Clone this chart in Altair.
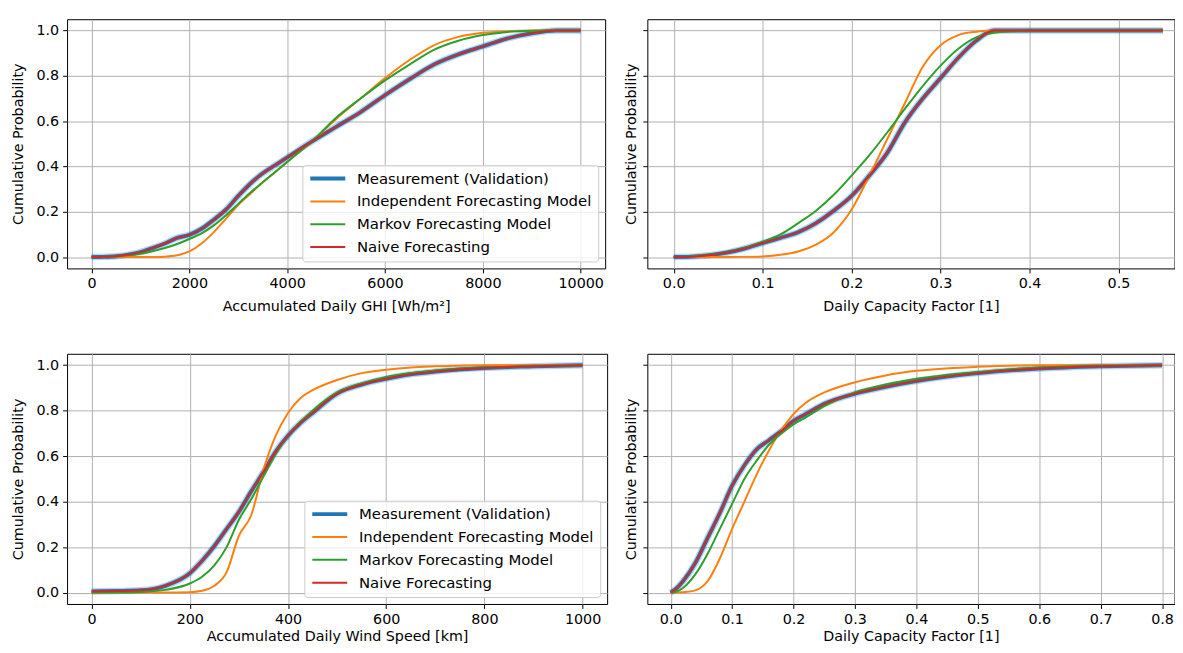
import altair as alt
import pandas as pd

SERIES = ["Measurement (Validation)", "Independent Forecasting Model",
          "Markov Forecasting Model", "Naive Forecasting"]
COLORS = ["#1f77b4", "#ff7f0e", "#2ca02c", "#d62728"]
WIDTHS = [4, 2, 2, 2]
YTICKS = [0.0, 0.2, 0.4, 0.6, 0.8, 1.0]

# --- Accumulated Daily GHI [Wh/m²] ---
ghi_x = [0, 250, 500, 750, 1000, 1250, 1500, 1750, 2000, 2250, 2500, 2750, 3000, 3250,
         3500, 3750, 4000, 4500, 5000, 5500, 6000, 6500, 7000, 7500, 8000, 8500, 9000,
         9500, 10000]
ghi_meas = [0, 0.001, 0.004, 0.011, 0.022, 0.04, 0.06, 0.085, 0.098, 0.125, 0.165, 0.21,
            0.27, 0.325, 0.37, 0.405, 0.44, 0.51, 0.575, 0.64, 0.715, 0.785, 0.85, 0.895,
            0.93, 0.965, 0.988, 1.0, 1.0]
ghi_indep = [0, 0, 0, 0, 0, 0.0005, 0.002, 0.008, 0.025, 0.06, 0.11, 0.17, 0.23, 0.28,
             0.33, 0.375, 0.42, 0.51, 0.61, 0.70, 0.79, 0.87, 0.935, 0.972, 0.99, 0.997,
             1.0, 1.0, 1.0]
ghi_markov = [0, 0.001, 0.003, 0.008, 0.015, 0.026, 0.04, 0.058, 0.08, 0.105, 0.14, 0.185,
              0.235, 0.285, 0.33, 0.375, 0.42, 0.51, 0.615, 0.70, 0.78, 0.85, 0.915, 0.955,
              0.98, 0.994, 0.999, 1.0, 1.0]
ghi_naive = [0, 0.001, 0.004, 0.011, 0.022, 0.04, 0.06, 0.085, 0.098, 0.125, 0.165, 0.21,
             0.27, 0.325, 0.37, 0.405, 0.44, 0.51, 0.575, 0.64, 0.715, 0.785, 0.85, 0.895,
             0.93, 0.965, 0.988, 1.0, 1.0]

# --- Solar daily capacity factor ---
scf_x = [0, 0.02, 0.04, 0.06, 0.08, 0.10, 0.12, 0.14, 0.16, 0.18, 0.20, 0.22, 0.24, 0.26,
         0.28, 0.30, 0.32, 0.34, 0.36, 0.38, 0.40, 0.45, 0.50, 0.55]
scf_meas = [0, 0.002, 0.008, 0.02, 0.038, 0.062, 0.085, 0.11, 0.15, 0.205, 0.27, 0.36,
            0.46, 0.595, 0.70, 0.79, 0.88, 0.955, 1.0, 1.0, 1.0, 1.0, 1.0, 1.0]
scf_indep = [0, 0, 0, 0.0005, 0.001, 0.003, 0.01, 0.025, 0.055, 0.11, 0.21, 0.36, 0.52,
             0.68, 0.84, 0.935, 0.98, 0.995, 1.0, 1.0, 1.0, 1.0, 1.0, 1.0]
scf_markov = [0, 0.003, 0.01, 0.022, 0.04, 0.068, 0.1, 0.15, 0.205, 0.275, 0.36, 0.45,
              0.55, 0.655, 0.755, 0.845, 0.92, 0.97, 0.99, 0.997, 1.0, 1.0, 1.0, 1.0]
scf_naive = [0, 0.002, 0.008, 0.02, 0.038, 0.062, 0.085, 0.11, 0.15, 0.205, 0.27, 0.36,
             0.46, 0.595, 0.70, 0.79, 0.88, 0.955, 1.0, 1.0, 1.0, 1.0, 1.0, 1.0]

# --- Accumulated Daily Wind Speed [km] ---
wind_x = [0, 50, 100, 150, 200, 225, 250, 275, 300, 325, 350, 375, 400, 425, 450, 500,
          550, 600, 650, 700, 800, 900, 1000]
wind_meas = [0.005, 0.007, 0.01, 0.03, 0.085, 0.14, 0.205, 0.28, 0.355, 0.445, 0.53,
             0.62, 0.69, 0.745, 0.79, 0.875, 0.915, 0.94, 0.96, 0.972, 0.988, 0.995, 1.0]
wind_indep = [0, 0, 0, 0, 0.002, 0.008, 0.03, 0.09, 0.25, 0.34, 0.54, 0.69, 0.79, 0.855,
              0.89, 0.935, 0.965, 0.98, 0.99, 0.995, 1.0, 1.0, 1.0]
wind_markov = [0, 0, 0.003, 0.012, 0.04, 0.07, 0.12, 0.2, 0.32, 0.41, 0.51, 0.61, 0.69,
               0.75, 0.80, 0.88, 0.92, 0.948, 0.965, 0.977, 0.99, 0.996, 1.0]
wind_naive = [0.005, 0.007, 0.01, 0.03, 0.085, 0.14, 0.205, 0.28, 0.355, 0.445, 0.53,
              0.62, 0.69, 0.745, 0.79, 0.875, 0.915, 0.94, 0.96, 0.972, 0.988, 0.995, 1.0]

# --- Wind daily capacity factor ---
wcf_x = [0, 0.01, 0.02, 0.04, 0.06, 0.08, 0.10, 0.12, 0.14, 0.16, 0.18, 0.20, 0.22, 0.25,
         0.30, 0.35, 0.40, 0.50, 0.60, 0.70, 0.80]
wcf_meas = [0, 0.02, 0.05, 0.13, 0.24, 0.35, 0.47, 0.56, 0.63, 0.67, 0.71, 0.755, 0.785,
            0.83, 0.875, 0.905, 0.93, 0.965, 0.985, 0.995, 1.0]
wcf_indep = [0, 0, 0.002, 0.01, 0.05, 0.15, 0.28, 0.40, 0.52, 0.625, 0.715, 0.785, 0.835,
             0.88, 0.925, 0.955, 0.975, 0.993, 1.0, 1.0, 1.0]
wcf_markov = [0, 0.005, 0.02, 0.08, 0.17, 0.28, 0.39, 0.50, 0.58, 0.65, 0.70, 0.74, 0.77,
              0.82, 0.88, 0.915, 0.94, 0.97, 0.99, 0.998, 1.0]
wcf_naive = [0, 0.02, 0.05, 0.13, 0.24, 0.35, 0.47, 0.56, 0.63, 0.67, 0.71, 0.755, 0.785,
             0.83, 0.875, 0.905, 0.93, 0.965, 0.985, 0.995, 1.0]


def make_df(x, *series_values):
    rows = []
    for name, ys in zip(SERIES, series_values):
        for xv, yv in zip(x, ys):
            rows.append({"x": xv, "y": yv, "series": name})
    return pd.DataFrame(rows)


FONT = "DejaVu Sans"
FS = 14.4


def panel(df, xdom, xticks, xfmt, xtitle, xtitlepad, width, height, show_legend, left_panel):
    leg = alt.Legend(title=None, orient="bottom-right", offset=7, fillColor="rgba(255,255,255,0.8)",
                     strokeColor="#cccccc", padding=6, cornerRadius=3, labelFontSize=15,
                     labelFont=FONT, labelColor="black", labelLimit=400,
                     symbolType="M-1,0H5.4", symbolSize=121, labelOffset=34, rowPadding=7)
    color = alt.Color("series:N", scale=alt.Scale(domain=SERIES, range=COLORS),
                      legend=leg if show_legend else None)
    sw = alt.StrokeWidth("series:N",
                         scale=alt.Scale(type="ordinal", domain=SERIES, range=WIDTHS),
                         legend=leg if show_legend else None)
    x = alt.X("x:Q", scale=alt.Scale(domain=xdom, nice=False, zero=False),
              axis=alt.Axis(values=xticks, format=xfmt, title=xtitle, titlePadding=xtitlepad,
                            labelFlush=False, labelOverlap=False))
    if left_panel:
        yaxis = alt.Axis(values=YTICKS, format=".1f", title="Cumulative Probability",
                         titlePadding=10.5, labelFlush=False, labelOverlap=False)
    else:
        yaxis = alt.Axis(values=YTICKS, format=".1f", labels=False, labelPadding=0,
                         title="Cumulative Probability", titlePadding=3.5)
    y = alt.Y("y:Q", scale=alt.Scale(domain=[-0.05, 1.05], nice=False, zero=False),
              axis=yaxis)
    base = alt.Chart(df)
    halo = base.transform_filter(alt.datum.series == SERIES[0]).mark_line(
        color="#1f77b4", opacity=0.3, strokeWidth=6.5, clip=True,
        interpolate="monotone").encode(x=x, y=y)
    layers = [halo]
    for s in SERIES:
        layers.append(base.transform_filter(alt.datum.series == s)
                      .mark_line(clip=True, interpolate="monotone")
                      .encode(x=x, y=y, color=color, strokeWidth=sw))
    return alt.layer(*layers).properties(width=width, height=height)


tl = panel(make_df(ghi_x, ghi_meas, ghi_indep, ghi_markov, ghi_naive),
           [-500, 10500], [0, 2000, 4000, 6000, 8000, 10000], "d",
           "Accumulated Daily GHI [Wh/m²]", 9.5, 542, 251, True, True)
tr = panel(make_df(scf_x, scf_meas, scf_indep, scf_markov, scf_naive),
           [-0.0296, 0.563], [0.0, 0.1, 0.2, 0.3, 0.4, 0.5], ".1f",
           "Daily Capacity Factor [1]", 9.5, 531, 251, False, False)
bl = panel(make_df(wind_x, wind_meas, wind_indep, wind_markov, wind_naive),
           [-50, 1050], [0, 200, 400, 600, 800, 1000], "d",
           "Accumulated Daily Wind Speed [km]", 3.5, 544, 252, True, True)
br = panel(make_df(wcf_x, wcf_meas, wcf_indep, wcf_markov, wcf_naive),
           [-0.038, 0.8202], [0.0, 0.1, 0.2, 0.3, 0.4, 0.5, 0.6, 0.7, 0.8], ".1f",
           "Daily Capacity Factor [1]", 3.5, 531, 252, False, False)

RES = dict(x="independent", y="independent", color="independent", strokeWidth="independent")

chart = alt.concat(tl, tr, bl, br, columns=2).resolve_scale(**RES).resolve_legend(
    color="independent", strokeWidth="independent").properties(
    spacing=alt.RowColnumber(row=86, column=40.5),
    bounds="flush",
    padding={"left": 1.5, "top": 8, "right": 0, "bottom": -1.5}
).configure(font=FONT).configure_axis(
    labelFont=FONT, titleFont=FONT, labelFontSize=FS, titleFontSize=FS,
    titleFontWeight="normal", labelColor="black", titleColor="black",
    tickColor="black", tickSize=4.5, tickWidth=1, labelPadding=4,
    gridColor="#b0b0b0", gridWidth=1, domain=False
).configure_view(stroke="black", strokeWidth=1)

chart.save("out.html", embed_options={"renderer": "svg", "actions": False})
